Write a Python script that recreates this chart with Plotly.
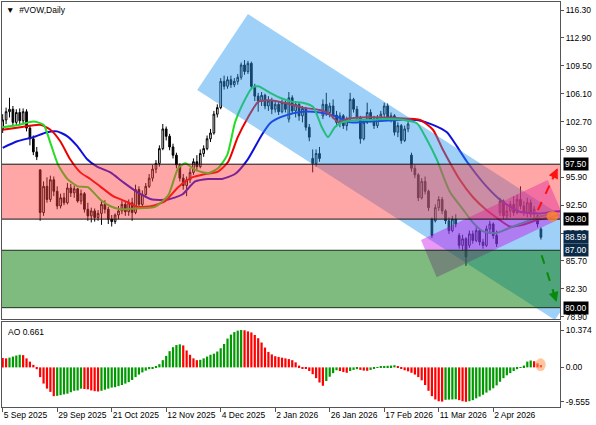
import plotly.graph_objects as go

# Daily candles, one per bar index
OPEN = [
    101.8, 102.9, 103.9, 104.2, 102.6, 103.8, 102.8, 103.9, 101.9, 100.6,
    99.0, 96.8, 91.6, 94.8, 93.2, 95.6, 94.2, 92.4, 93.4, 92.8,
    94.6, 94.0, 94.5, 93.0, 93.9, 92.0, 91.2, 91.8, 91.0, 91.5,
    92.6, 92.0, 90.8, 90.5, 91.3, 91.8, 92.6, 91.7, 92.8, 91.6,
    94.4, 92.6, 93.8, 94.8, 95.8, 96.9, 97.6, 99.4, 101.8, 100.9,
    99.6, 98.6, 97.4, 95.8, 94.9, 95.6, 96.5, 97.8, 97.2, 98.8,
    99.4, 100.6, 101.3, 103.6, 104.4, 107.6, 107.0, 107.8, 107.2, 107.6,
    108.1, 109.6, 108.8, 109.8, 107.0, 105.8, 105.2, 105.9, 104.6, 105.2,
    104.2, 104.8, 103.9, 105.0, 103.0, 105.6, 104.0, 104.8, 103.4, 104.3,
    102.0, 98.2, 97.6, 98.8, 103.4, 104.8, 103.8, 104.6, 103.5, 102.6,
    103.4, 102.2, 103.0, 105.4, 104.2, 103.2, 100.6, 102.6, 103.8, 103.0,
    102.2, 103.2, 103.6, 104.6, 103.2, 103.4, 101.4, 102.2, 100.4, 101.8,
    98.6, 97.0, 96.2, 93.4, 95.4, 94.2, 90.8, 90.6, 92.2, 93.2,
    91.8, 90.6, 89.4, 90.8, 88.8, 87.6, 88.4, 87.6, 89.0, 88.2,
    89.4, 88.0, 87.6, 89.6, 90.2, 88.8, 91.6, 93.0, 91.2, 91.8,
    92.6, 91.6, 93.2, 92.4, 91.6, 92.8, 91.4, 91.2, 89.6,
]
HIGH = [
    103.6, 104.4, 105.6, 104.6, 104.2, 104.3, 104.3, 104.2, 102.2, 101.0,
    99.6, 96.9, 95.4, 95.9, 96.1, 96.0, 94.8, 93.9, 94.0, 95.2,
    95.1, 94.9, 94.6, 94.4, 94.1, 92.8, 92.2, 92.1, 91.9, 93.0,
    93.1, 92.3, 91.3, 91.5, 92.4, 93.0, 93.0, 93.2, 93.4, 95.0,
    94.8, 94.3, 95.2, 96.3, 97.4, 98.0, 99.8, 102.4, 102.1, 101.2,
    100.0, 98.9, 97.6, 96.3, 96.0, 97.0, 98.2, 98.6, 99.3, 99.8,
    101.0, 101.8, 104.0, 104.8, 108.0, 108.3, 108.2, 108.3, 108.0, 108.5,
    109.9, 110.2, 110.1, 110.0, 107.3, 106.2, 106.3, 106.1, 105.8, 105.6,
    105.2, 105.1, 105.4, 105.3, 106.3, 105.9, 105.2, 105.0, 104.6, 104.5,
    102.4, 99.3, 99.3, 99.6, 105.4, 106.2, 105.0, 105.4, 104.0, 103.8,
    103.6, 103.3, 106.2, 105.6, 104.6, 103.4, 102.9, 105.0, 104.2, 103.4,
    103.5, 104.0, 105.0, 104.9, 103.8, 103.6, 102.6, 102.4, 102.2, 102.8,
    98.9, 97.4, 96.4, 95.8, 96.0, 94.4, 91.0, 92.6, 93.6, 93.5,
    92.0, 91.0, 91.2, 91.4, 89.1, 88.9, 88.6, 89.4, 89.4, 89.8,
    89.6, 88.4, 90.0, 90.6, 90.4, 89.4, 93.4, 93.2, 92.4, 93.0,
    93.6, 93.8, 94.8, 93.0, 93.4, 93.2, 92.4, 91.4, 89.8,
]
LOW = [
    101.3, 102.4, 103.2, 102.2, 102.2, 102.3, 102.5, 101.5, 99.8, 98.6,
    98.0, 90.6, 91.2, 92.8, 92.9, 93.6, 92.0, 92.1, 92.5, 92.6,
    93.5, 93.4, 92.8, 92.6, 91.6, 90.6, 90.4, 90.5, 90.6, 90.1,
    91.5, 90.2, 89.9, 90.2, 90.8, 91.4, 91.2, 91.2, 90.6, 91.4,
    92.2, 92.3, 93.4, 94.6, 95.4, 96.4, 97.2, 99.2, 100.4, 99.2,
    98.2, 97.0, 95.4, 94.4, 93.6, 95.2, 96.2, 96.8, 97.0, 98.4,
    99.2, 100.2, 101.1, 103.2, 104.2, 106.6, 106.7, 106.8, 106.9, 107.2,
    107.8, 108.4, 108.5, 106.8, 105.2, 103.9, 104.6, 104.2, 104.0, 103.6,
    103.8, 103.5, 103.7, 103.8, 102.6, 103.6, 103.2, 102.8, 102.6, 101.6,
    100.3, 96.5, 97.2, 97.8, 103.0, 103.4, 103.2, 103.0, 102.2, 102.0,
    101.8, 101.6, 102.8, 103.8, 102.8, 100.0, 100.4, 102.4, 102.6, 101.8,
    101.9, 102.8, 103.2, 102.9, 102.6, 101.0, 100.8, 100.0, 100.2, 101.4,
    96.6, 95.8, 93.0, 93.2, 93.8, 91.8, 88.5, 90.4, 91.8, 91.4,
    90.2, 89.0, 89.2, 89.8, 87.2, 87.0, 85.1, 87.3, 87.8, 88.0,
    87.6, 87.2, 87.4, 89.0, 88.4, 87.4, 91.2, 90.8, 90.8, 91.0,
    91.2, 91.4, 92.0, 91.2, 91.0, 91.0, 90.8, 89.8, 88.3,
]
CLOSE = [
    102.9, 103.9, 104.2, 102.6, 103.8, 102.8, 103.9, 101.9, 100.6, 99.0,
    98.4, 91.6, 94.8, 93.2, 95.6, 94.2, 92.4, 93.4, 92.8, 94.6,
    94.0, 94.5, 93.0, 93.9, 92.0, 91.2, 91.8, 91.0, 91.5, 92.6,
    92.0, 90.8, 90.5, 91.3, 91.8, 92.6, 91.7, 92.8, 91.6, 94.4,
    92.6, 93.8, 94.8, 95.8, 96.9, 97.6, 99.4, 101.8, 100.9, 99.6,
    98.6, 97.4, 95.8, 94.9, 95.6, 96.5, 97.8, 97.2, 98.8, 99.4,
    100.6, 101.3, 103.6, 104.4, 107.6, 107.0, 107.8, 107.2, 107.6, 108.1,
    109.6, 108.8, 109.8, 107.0, 105.8, 105.2, 105.9, 104.6, 105.2, 104.2,
    104.8, 103.9, 105.0, 104.2, 105.6, 104.0, 104.8, 103.4, 104.3, 102.0,
    100.8, 97.6, 98.8, 98.2, 104.8, 103.8, 104.6, 103.5, 102.6, 103.4,
    102.2, 103.0, 105.4, 104.2, 103.2, 100.6, 102.6, 103.8, 103.0, 102.2,
    103.2, 103.6, 104.6, 103.2, 103.4, 101.4, 102.2, 100.4, 101.8, 102.4,
    97.0, 96.2, 93.4, 95.4, 94.2, 92.2, 88.8, 92.2, 93.2, 91.8,
    90.6, 89.4, 90.8, 90.2, 87.6, 88.4, 86.2, 89.0, 88.2, 89.4,
    88.0, 87.6, 89.6, 90.2, 88.8, 87.8, 93.0, 91.2, 91.8, 92.6,
    91.6, 93.2, 92.4, 91.6, 92.8, 91.4, 92.0, 90.2, 88.59,
]
BARS = list(range(len(CLOSE)))

# Alligator lines, read at sparse bar positions (shifted forward past the last bar)
LIPS_X = [0, 5, 9, 12, 14, 16.3, 19, 22, 25, 28.6, 31.5, 34.5, 38.9, 44.7, 48.6,
          51.5, 53.6, 56.5, 60.3, 63.2, 65.9, 68.2, 70.3, 73.2, 75, 78.5, 81.4,
          85.2, 88.1, 91.1, 93.7, 95.5, 97.5, 99.6, 104, 107.8, 112.8, 117.5,
          121.6, 124.5, 127.4, 131.3, 135.1, 138, 141, 145, 148, 151.8, 155.6,
          158.5, 161]
LIPS_Y = [102.0, 102.3, 102.7, 102.3, 100.1, 97.4, 95.7, 94.8, 94.7, 93.2, 92.4,
          92.0, 92.1, 92.3, 93.7, 97.0, 97.6, 96.8, 96.4, 97.0, 98.6, 102.6,
          104.7, 106.8, 107.0, 106.2, 105.6, 105.1, 105.0, 104.5, 102.0, 100.8,
          102.0, 102.6, 102.9, 102.9, 103.0, 102.9, 102.5, 100.5, 98.1, 94.1,
          92.0, 90.4, 89.3, 89.1, 89.6, 90.2, 90.8, 91.2, 91.4]
TEETH_X = [0, 5.2, 11, 14, 16.9, 19.8, 22.8, 25.7, 28.6, 32.4, 36.5, 39.5, 43.9,
           47.7, 51.5, 55.6, 59.4, 63.2, 66.2, 69, 72, 75, 78.5, 83.5, 88.1,
           93.1, 96, 98.5, 101, 104.9, 116.6, 122.5, 126.3, 129.2, 134.2, 138,
           142, 145.9, 148.9, 152.7, 156.8, 161.5, 163]
TEETH_Y = [101.7, 102.0, 102.3, 101.7, 100.3, 98.1, 96.5, 95.7, 94.8, 93.6, 92.9,
           92.3, 92.4, 93.0, 94.7, 95.9, 96.3, 96.6, 97.8, 100.8, 103.2, 105.1,
           105.3, 104.9, 104.4, 104.1, 103.6, 102.6, 103.0, 103.2, 103.1, 102.9,
           101.7, 99.3, 95.6, 93.5, 91.9, 90.7, 89.9, 90.1, 90.7, 91.1, 91.3]
JAW_X = [0, 4.3, 9, 13, 16, 19, 21.9, 24.8, 27.7, 31.6, 35.4, 39.5, 43.9, 48.6,
         52.7, 56.5, 60.3, 64.4, 68.2, 71.8, 76.1, 78.5, 81.4, 85.2, 88.1, 93.1,
         98.1, 102, 107, 116.6, 121.6, 126.3, 130.4, 133.3, 136.3, 142, 146.8,
         151.8, 157.7, 161.5, 165.6]
JAW_Y = [99.5, 100.3, 100.8, 101.4, 101.5, 100.9, 99.7, 98.1, 97.2, 96.5, 95.3,
         94.1, 93.2, 93.2, 93.8, 95.4, 95.7, 95.7, 96.3, 98.0, 101.1, 102.5,
         103.2, 103.7, 103.9, 103.8, 103.3, 102.6, 102.7, 102.9, 102.9, 102.3,
         101.4, 99.7, 97.8, 94.8, 92.9, 91.7, 91.5, 91.7, 91.8]

# Awesome Oscillator histogram
AO = [
    2.6, 2.5, 2.7, 3.0, 3.3, 3.5, 3.4, 2.5, 1.6, 0.7,
    -0.5, -2.7, -4.5, -5.9, -6.8, -8.0, -7.9, -7.7, -7.5, -7.3,
    -6.9, -6.5, -6.4, -5.9, -6.0, -6.1, -6.4, -6.6, -6.7, -6.5,
    -6.2, -5.9, -5.6, -5.5, -5.2, -4.9, -4.5, -4.1, -3.5, -2.7,
    -2.0, -1.4, -0.9, -0.5, -0.3, 0.3, 0.9, 2.0, 3.2, 4.5,
    5.6, 6.2, 6.4, 6.1, 4.7, 3.5, 2.5, 2.0, 2.1, 2.5,
    3.0, 3.5, 3.8, 4.4, 5.3, 6.5, 8.0, 9.1, 9.8, 10.2,
    10.374, 10.3, 10.0, 9.7, 9.0, 8.1, 6.9, 5.5, 4.3, 3.6,
    3.1, 2.9, 2.7, 2.5, 2.3, 2.0, 1.4, 0.5, -0.2, -0.4,
    -1.0, -1.9, -3.0, -4.2, -5.1, -3.8, -2.6, -1.6, -0.8, -1.0,
    -1.3, -1.5, -1.0, -0.7, -0.5, -0.7, -0.9, -0.95, -0.7, -0.4,
    0.05, 0.3, 0.4, 0.45, 0.5, 0.6, 0.2, -0.3, -0.8, -1.1,
    -1.5, -2.0, -2.7, -3.6, -4.9, -6.5, -8.0, -8.9, -9.4, -9.5,
    -9.0, -8.95, -8.9, -8.85, -9.1, -9.4, -9.555, -9.4, -9.1, -8.6,
    -8.1, -7.6, -7.0, -6.4, -5.8, -5.0, -4.0, -3.0, -2.2, -1.6,
    -1.0, -0.5, -0.1, 0.5, 1.6, 1.9, 1.7, 1.1, 0.661,
]

DATE_TICKS = [0, 16, 32, 48, 64, 80, 96, 112, 128, 144]
DATE_LABELS = ["5 Sep 2025", "29 Sep 2025", "21 Oct 2025", "12 Nov 2025",
               "4 Dec 2025", "2 Jan 2026", "26 Jan 2026", "17 Feb 2026",
               "11 Mar 2026", "2 Apr 2026"]
PRICE_TICKS = [116.30, 112.90, 109.50, 106.10, 102.70, 99.30, 95.90, 92.50,
               89.10, 85.70, 82.30, 78.90]
AO_TICKS = [10.374, 0.0, -9.555]
AO_LABELS = ["10.374", "0.00", "-9.555"]

# Zones and drawn channels (bar index, price)
SELL_ZONE = (90.80, 97.50)
BUY_ZONE = (80.00, 87.00)
DOWN_CHANNEL = [(72.0, 115.81), (57.1, 106.54), (162.1, 78.5), (177.0, 87.76)]
UP_CHANNEL = [(122.8, 88.25), (160.0, 95.57), (164.7, 91.06), (127.4, 83.7)]
UP_ARROW = [(157.1, 91.9), (162.9, 97.0)]
DOWN_ARROW = [(158.2, 86.4), (162.6, 80.7)]
PRICE_BOXES = [(97.50, "97.50", "#000000"), (90.80, "90.80", "#000000"),
               (88.59, "88.59", "#0b2a48"), (87.00, "87.00", "#0b2a48"),
               (80.00, "80.00", "#000000")]

FONT = "Liberation Sans, Arial, sans-serif"


def poly_path(points):
    return "M " + " L ".join(f"{x},{y}" for x, y in points) + " Z"


fig = go.Figure()

fig.add_trace(
    go.Candlestick(
        x=BARS, open=OPEN, high=HIGH, low=LOW, close=CLOSE,
        increasing=dict(line=dict(color="#000000", width=1), fillcolor="#ffffff"),
        decreasing=dict(line=dict(color="#000000", width=1), fillcolor="#000000"),
        whiskerwidth=0, xaxis="x", yaxis="y", showlegend=False,
    )
)
for xs, ys, color in [(JAW_X, JAW_Y, "#1010dd"), (TEETH_X, TEETH_Y, "#ee0000"),
                      (LIPS_X, LIPS_Y, "#22dd22")]:
    fig.add_trace(
        go.Scatter(x=xs, y=ys, mode="lines", xaxis="x", yaxis="y",
                   line=dict(color=color, width=2, shape="spline", smoothing=0.6),
                   showlegend=False, hoverinfo="skip")
    )

ao_colors = ["#ff0000" if i == 0 or v <= AO[i - 1] else "#009a00"
             for i, v in enumerate(AO)]
fig.add_trace(
    go.Bar(x=BARS, y=AO, marker=dict(color=ao_colors, line=dict(width=0)),
           xaxis="x2", yaxis="y2", showlegend=False)
)

shapes = [
    dict(type="path", path=poly_path(DOWN_CHANNEL), xref="x", yref="y",
         fillcolor="rgb(40,150,240)", opacity=0.45, line=dict(width=0), layer="above"),
    dict(type="path", path=poly_path(UP_CHANNEL), xref="x", yref="y",
         fillcolor="rgb(200,0,230)", opacity=0.4, line=dict(width=0), layer="above"),
    dict(type="rect", x0=-5, x1=175, y0=SELL_ZONE[0], y1=SELL_ZONE[1], xref="x", yref="y",
         fillcolor="rgb(255,60,60)", opacity=0.45, line=dict(width=0), layer="above"),
    dict(type="rect", x0=-5, x1=175, y0=BUY_ZONE[0], y1=BUY_ZONE[1], xref="x", yref="y",
         fillcolor="rgb(0,120,0)", opacity=0.5, line=dict(width=0), layer="above"),
]
for level, color in [(SELL_ZONE[0], "#111111"), (SELL_ZONE[1], "#111111"),
                     (BUY_ZONE[0], "#1c2e1c"), (BUY_ZONE[1], "#1c2e1c")]:
    shapes.append(dict(type="line", x0=-5, x1=175, y0=level, y1=level, xref="x",
                       yref="y", line=dict(color=color, width=1), layer="above"))
for (p0, p1), color in [(UP_ARROW, "#ff1010"), (DOWN_ARROW, "#0a8a0a")]:
    shapes.append(dict(type="line", x0=p0[0], y0=p0[1], x1=p1[0], y1=p1[1],
                       xref="x", yref="y", line=dict(color=color, width=2, dash="dash"),
                       layer="above"))
shapes.append(dict(type="circle", x0=159.6, x1=163.2, y0=90.5, y1=91.8, xref="x",
                   yref="y", fillcolor="rgb(255,140,40)", opacity=0.75,
                   line=dict(width=0), layer="above"))
shapes.append(dict(type="circle", x0=156.4, x1=159.4, y0=-1.0, y1=2.5, xref="x2",
                   yref="y2", fillcolor="rgb(255,150,80)", opacity=0.55,
                   line=dict(width=0), layer="above"))

annotations = [
    dict(text="▼  #VOW,Daily", xref="paper", yref="paper", x=0.004, y=0.998,
         xanchor="left", yanchor="top", showarrow=False,
         font=dict(family=FONT, size=8.5, color="#000000")),
    dict(text="AO 0.661", xref="paper", yref="y2 domain", x=0.008, y=0.97,
         xanchor="left", yanchor="top", showarrow=False,
         font=dict(family=FONT, size=8.5, color="#000000")),
]
for (p0, p1), color in [(UP_ARROW, "#ff1010"), (DOWN_ARROW, "#0a8a0a")]:
    annotations.append(dict(x=p1[0], y=p1[1], ax=p1[0] - (p1[0] - p0[0]) * 0.3,
                            ay=p1[1] - (p1[1] - p0[1]) * 0.3, xref="x", yref="y",
                            axref="x", ayref="y", text="", showarrow=True,
                            arrowhead=2, arrowsize=1, arrowwidth=2, arrowcolor=color))
for level, label, color in PRICE_BOXES:
    annotations.append(dict(text=label, xref="paper", yref="y", x=1.0, y=level,
                            xanchor="left", yanchor="middle", xshift=3, showarrow=False,
                            bgcolor=color, borderpad=1,
                            font=dict(family=FONT, size=8.5, color="#ffffff")))

axis_line = dict(showline=True, mirror=True, linecolor="#555555", linewidth=1,
                 showgrid=False, zeroline=False)

fig.update_layout(
    width=596, height=425,
    margin=dict(l=2, r=36, t=2, b=18),
    paper_bgcolor="#ffffff", plot_bgcolor="#ffffff",
    font=dict(family=FONT, size=8.5, color="#000000"),
    showlegend=False, bargap=0.35,
    shapes=shapes, annotations=annotations,
    xaxis=dict(domain=[0, 1], anchor="y", range=[-0.2, 163.6], showticklabels=False,
               ticks="", rangeslider=dict(visible=False), **axis_line),
    xaxis2=dict(domain=[0, 1], anchor="y2", matches="x", tickvals=DATE_TICKS,
                ticktext=DATE_LABELS, ticks="outside", ticklen=4, tickcolor="#555555",
                tickangle=0, ticklabelposition="outside right", **axis_line),
    yaxis=dict(domain=[0.2173, 1], anchor="x", side="right", range=[78.62, 117.28],
               tickvals=PRICE_TICKS, tickformat=".2f", ticks="outside", ticklen=3,
               tickcolor="#555555", **axis_line),
    yaxis2=dict(domain=[0, 0.2099], anchor="x2", side="right", range=[-11.0, 12.6],
                tickvals=AO_TICKS, ticktext=AO_LABELS, ticks="outside", ticklen=3,
                tickcolor="#555555", **axis_line),
)

# the page body has a default 8px margin; remove it so the chart fills the window
fig.write_html("out.html", config={"displayModeBar": False},
               post_script="document.body.style.margin='0';")
